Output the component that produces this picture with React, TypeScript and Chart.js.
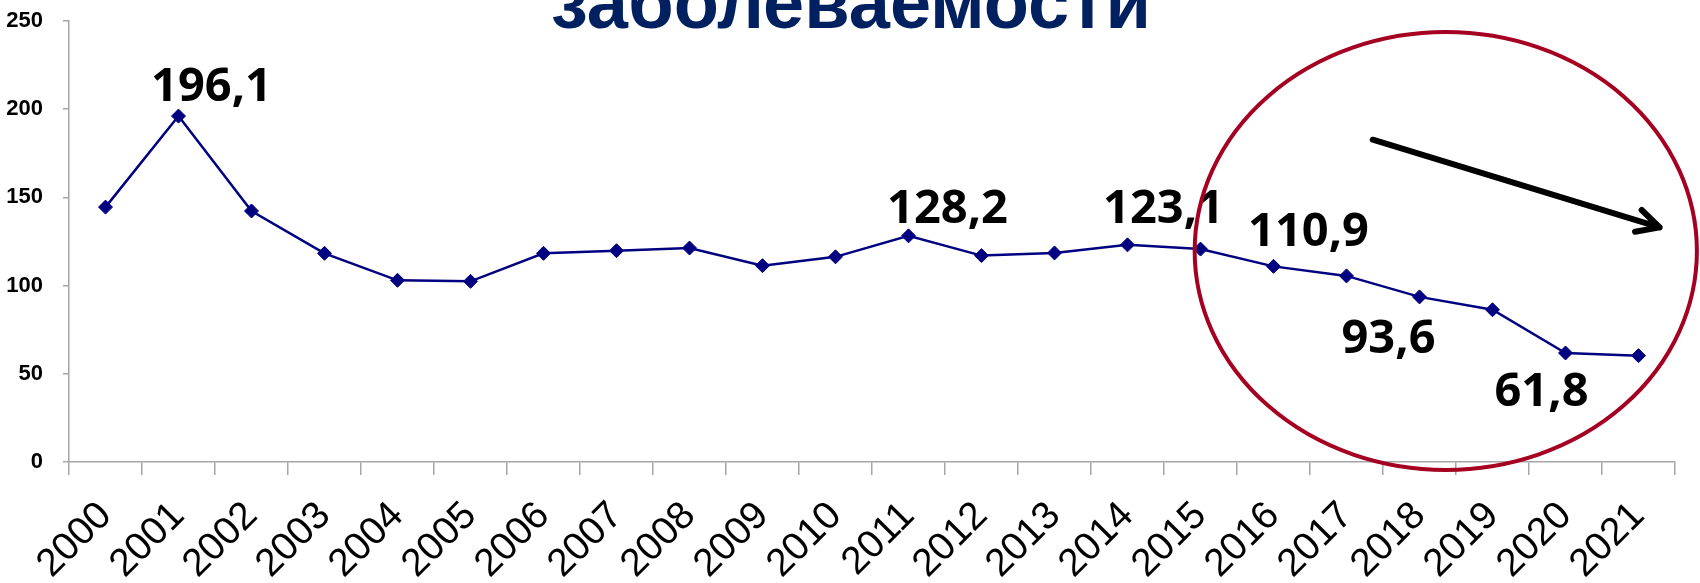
import React, { useEffect, useRef } from "react";
import { Chart, registerables } from "chart.js";

Chart.register(...registerables);

// ---- data ----
const years = [
  "2000", "2001", "2002", "2003", "2004", "2005", "2006", "2007", "2008", "2009", "2010",
  "2011", "2012", "2013", "2014", "2015", "2016", "2017", "2018", "2019", "2020", "2021",
];
const incidence = [
  144.5, 196.1, 142.3, 118.3, 103.0, 102.4, 118.3, 119.8, 121.3, 111.3, 116.3,
  128.2, 117.0, 118.5, 123.1, 120.7, 110.9, 105.5, 93.6, 86.3, 61.8, 60.3,
];
const labeledYears = ["2001", "2011", "2014", "2016", "2018", "2020"];
const yMin = 0;
const yMax = 250;
const yStep = 50;
const titleText = "заболеваемости";

// ---- styling / annotation geometry (not data) ----
const labelOffsets: [number, number][] = [
  [33, -15],
  [39, -13],
  [36, -22],
  [35, -20],
  [-31, 56],
  [-24, 53],
];
const ellipseCenter = { index: 18.36, value: 119.6 };
const ellipseRadius = { index: 3.44, value: 124.1 };
const arrowStart = { index: 17.36, value: 182.7 };
const arrowEnd = { index: 21.29, value: 133.0 };

const NAVY = "#000080";
const AXIS = "#A6A6A6";
const SANS = '"Liberation Sans", Arial, sans-serif';

const overlayPlugin = {
  id: "overlay",
  afterDraw(chart: any) {
    const ctx = chart.ctx;
    const xs = chart.scales.x;
    const ys = chart.scales.y;
    const meta = chart.getDatasetMeta(0);

    // title (cut off at top)
    ctx.save();
    ctx.fillStyle = "#002060";
    ctx.font = `bold 74px ${SANS}`;
    ctx.textAlign = "center";
    ctx.textBaseline = "alphabetic";
    ctx.fillText(titleText, 851, 28);
    ctx.restore();

    // data labels
    ctx.save();
    ctx.fillStyle = "#000000";
    ctx.font = 'bold 47px "Noto Sans", "Open Sans", sans-serif';
    ctx.textAlign = "center";
    ctx.textBaseline = "alphabetic";
    labeledYears.forEach((y, k) => {
      const idx = years.indexOf(y);
      const pt = meta.data[idx];
      if (!pt) return;
      const txt = incidence[idx].toFixed(1).replace(".", ",");
      const [dx, dy] = labelOffsets[k];
      ctx.fillText(txt, pt.x + dx, pt.y + dy);
    });
    ctx.restore();

    // ellipse
    const cx = xs.getPixelForValue(ellipseCenter.index);
    const cy = ys.getPixelForValue(ellipseCenter.value);
    const rx = Math.abs(xs.getPixelForValue(ellipseCenter.index + ellipseRadius.index) - cx);
    const ry = Math.abs(ys.getPixelForValue(ellipseCenter.value + ellipseRadius.value) - cy);
    ctx.save();
    ctx.strokeStyle = "#A50021";
    ctx.lineWidth = 4;
    ctx.beginPath();
    ctx.ellipse(cx, cy, rx, ry, 0, 0, Math.PI * 2);
    ctx.stroke();
    ctx.restore();

    // arrow
    const x1 = xs.getPixelForValue(arrowStart.index);
    const y1 = ys.getPixelForValue(arrowStart.value);
    const x2 = xs.getPixelForValue(arrowEnd.index);
    const y2 = ys.getPixelForValue(arrowEnd.value);
    const ang = Math.atan2(y2 - y1, x2 - x1);
    const head = 25;
    const half = (27 * Math.PI) / 180;
    ctx.save();
    ctx.strokeStyle = "#000000";
    ctx.lineWidth = 6;
    ctx.lineCap = "round";
    ctx.lineJoin = "round";
    ctx.beginPath();
    ctx.moveTo(x1, y1);
    ctx.lineTo(x2, y2);
    ctx.moveTo(x2 - head * Math.cos(ang - half), y2 - head * Math.sin(ang - half));
    ctx.lineTo(x2, y2);
    ctx.lineTo(x2 - head * Math.cos(ang + half), y2 - head * Math.sin(ang + half));
    ctx.stroke();
    ctx.restore();
  },
};

export default function App() {
  const canvasRef = useRef<HTMLCanvasElement | null>(null);

  useEffect(() => {
    document.body.style.margin = "0";
    const canvas = canvasRef.current;
    if (!canvas) return;
    const chart = new Chart(canvas, {
      type: "line",
      data: {
        labels: years,
        datasets: [
          {
            data: incidence,
            borderColor: NAVY,
            backgroundColor: NAVY,
            borderWidth: 2.5,
            pointStyle: "rectRot",
            pointRadius: 7,
            pointHoverRadius: 7,
            pointBackgroundColor: NAVY,
            pointBorderColor: NAVY,
            pointBorderWidth: 1,
            tension: 0,
            fill: false,
          },
        ],
      },
      options: {
        responsive: false,
        animation: false,
        events: [],
        layout: { padding: { top: 21, right: 25, left: 0, bottom: 0 } },
        plugins: {
          legend: { display: false },
          tooltip: { enabled: false },
          title: { display: false },
        },
        scales: {
          x: {
            type: "category",
            offset: true,
            border: { display: true, color: AXIS, width: 1.5 },
            grid: {
              offset: true,
              drawOnChartArea: false,
              drawTicks: true,
              tickLength: 13,
              color: AXIS,
              lineWidth: 1.5,
            },
            ticks: {
              autoSkip: false,
              minRotation: 45,
              maxRotation: 45,
              padding: 18,
              labelOffset: 0,
              color: "#000000",
              font: { family: SANS, size: 39, weight: "normal" },
            },
            afterFit(scale: any) {
              scale.height = 121;
              scale.paddingLeft = 0;
              scale.paddingRight = 0;
            },
          },
          y: {
            min: yMin,
            max: yMax,
            border: { display: true, color: AXIS, width: 1.5 },
            grid: {
              drawOnChartArea: false,
              drawTicks: true,
              tickLength: 6,
              color: AXIS,
              lineWidth: 1.5,
            },
            ticks: {
              stepSize: yStep,
              padding: 20,
              color: "#000000",
              font: { family: SANS, size: 22, weight: "bold" },
            },
            afterFit(scale: any) {
              scale.width = 69;
              scale.paddingTop = 0;
              scale.paddingBottom = 0;
            },
          },
        },
      },
      plugins: [overlayPlugin],
    } as any);
    return () => chart.destroy();
  }, []);

  return (
    <div style={{ position: "absolute", left: 0, top: 0, width: 1700, height: 583, background: "#ffffff" }}>
      <canvas ref={canvasRef} width={1700} height={583} style={{ display: "block", width: 1700, height: 583 }} />
    </div>
  );
}
